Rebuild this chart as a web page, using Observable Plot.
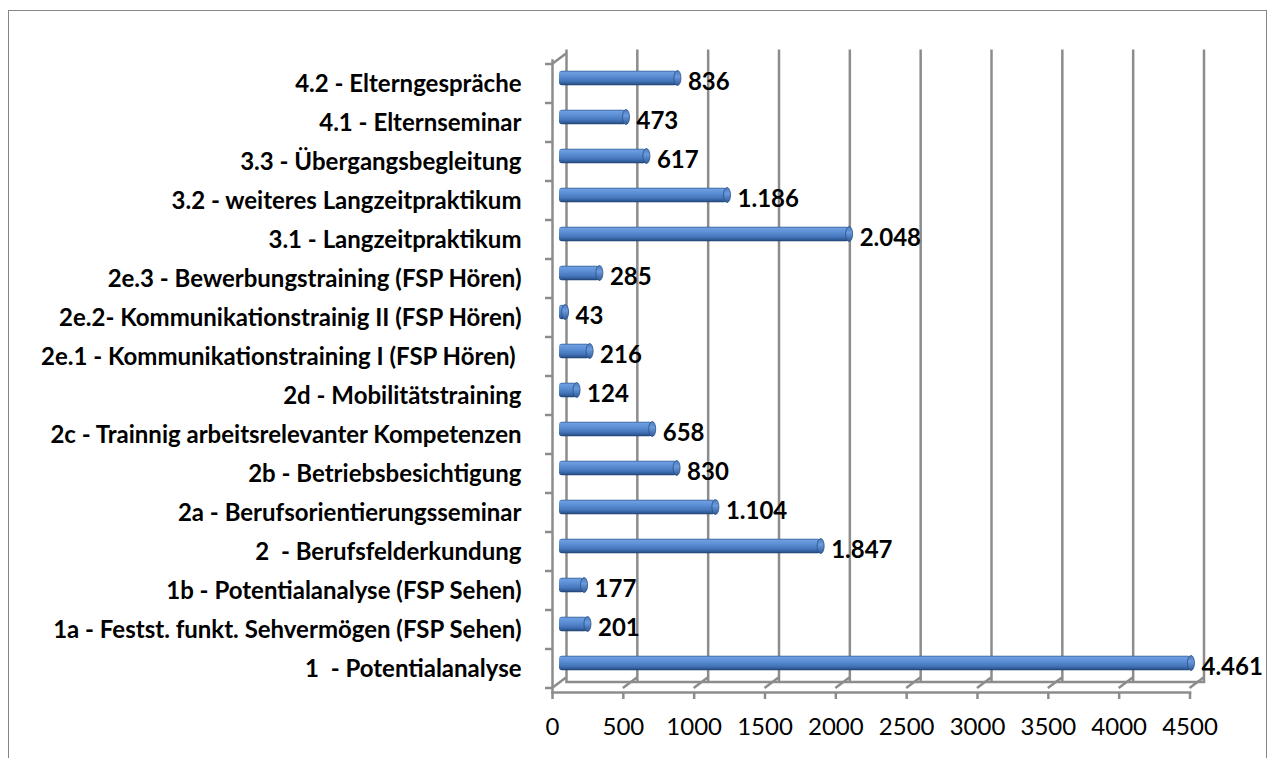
<!DOCTYPE html>
<html><head><meta charset="utf-8">
<script src="https://cdn.jsdelivr.net/npm/d3@7"></script>
<script src="https://cdn.jsdelivr.net/npm/@observablehq/plot@0.6"></script>
<style>
html,body{margin:0;padding:0;background:#fff;overflow:hidden}
#wrap{position:relative;width:1269px;height:758px}
#frame{position:absolute;left:8px;top:10px;width:1259px;height:800px;border:1.5px solid #868686;box-sizing:border-box;pointer-events:none}
svg text{white-space:pre}
</style></head><body><div id="wrap"><div id="chart"></div><div id="frame"></div></div>
<script>
const categories = [
  "4.2 - Elterngespräche",
  "4.1 - Elternseminar",
  "3.3 - Übergangsbegleitung",
  "3.2 - weiteres Langzeitpraktikum",
  "3.1 - Langzeitpraktikum",
  "2e.3 - Bewerbungstraining (FSP Hören)",
  "2e.2- Kommunikationstrainig II (FSP Hören)",
  "2e.1 - Kommunikationstraining I (FSP Hören) ",
  "2d - Mobilitätstraining",
  "2c - Trainnig arbeitsrelevanter Kompetenzen",
  "2b - Betriebsbesichtigung",
  "2a - Berufsorientierungsseminar",
  "2  - Berufsfelderkundung",
  "1b - Potentialanalyse (FSP Sehen)",
  "1a - Festst. funkt. Sehvermögen (FSP Sehen)",
  "1  - Potentialanalyse"
];
const values = [836, 473, 617, 1186, 2048, 285, 43, 216, 124, 658, 830, 1104, 1847, 177, 201, 4461];
const xTicks = [0, 500, 1000, 1500, 2000, 2500, 3000, 3500, 4000, 4500];

const data = categories.map((c, i) => ({cat: c, value: values[i]}));
const DX = 14, DY = -10.5;
const grid = "#8c8c8c";
const fmt = d3.formatLocale({decimal: ",", thousands: ".", grouping: [3], currency: ["", "€"]}).format(",d");

const chart = Plot.plot({
  width: 1269, height: 758,
  marginLeft: 552, marginRight: 79.5, marginTop: 60, marginBottom: 66,
  style: {fontFamily: "Lato, sans-serif", background: "transparent", overflow: "visible", color: "#000"},
  x: {domain: [0, 4500], label: null},
  y: {domain: categories, padding: 0, label: null},
  marks: [
    Plot.ruleX(xTicks, {x: d => d, dx: DX, dy: DY, stroke: grid, strokeWidth: 2.5}),
    Plot.frame({anchor: "bottom", dx: DX, dy: DY, stroke: grid, strokeWidth: 2.5}),
    Plot.frame({anchor: "bottom", stroke: grid, strokeWidth: 2.5}),
    Plot.frame({anchor: "left", stroke: grid, strokeWidth: 2.5}),
    Plot.axisX({ticks: xTicks, tickSize: 7, tickPadding: 18, fontSize: 24, stroke: grid, strokeWidth: 2.5, fill: "#000", tickFormat: d => String(d), label: null}),
    Plot.axisY({tickSize: 0, tickPadding: 31, fontSize: 24, fontWeight: "bold", fill: "#000", label: null}),
    Plot.barX(data, {x: "value", y: "cat", dx: 7, dy: -5.5, insetTop: 12.25, insetBottom: 12.25, fill: "url(#barGrad)", rx: 3}),
    Plot.text(data, {x: "value", y: "cat", text: d => fmt(d.value), textAnchor: "start", dx: 17, dy: -2, fontSize: 24, fontWeight: "bold", fill: "#000"})
  ]
});
document.getElementById("chart").appendChild(chart);

const sx = chart.scale("x"), sy = chart.scale("y");
const svg = d3.select(chart);
const defs = svg.insert("defs", ":first-child");
const g1 = defs.append("linearGradient").attr("id", "barGrad").attr("x1", 0).attr("y1", 0).attr("x2", 0).attr("y2", 1);
[[0, "#2f5d98"], [0.1, "#6f9ee0"], [0.35, "#5d90d6"], [0.7, "#4676bc"], [0.9, "#2e5994"], [1, "#1d3b66"]]
  .forEach(([o, c]) => g1.append("stop").attr("offset", o).attr("stop-color", c));
const g2 = defs.append("linearGradient").attr("id", "capGrad").attr("x1", 0).attr("y1", 0).attr("x2", 0).attr("y2", 1);
[[0, "#4a7cc0"], [0.4, "#6a9ade"], [1, "#2f5b96"]]
  .forEach(([o, c]) => g2.append("stop").attr("offset", o).attr("stop-color", c));

const bw = sy.bandwidth;
const yTop = sy.apply(categories[0]);
const yBottom = sy.apply(categories[categories.length - 1]) + bw;
const x0 = sx.apply(0);
const deco = svg.insert("g", "g[aria-label='bar']").attr("stroke", grid).attr("stroke-width", 2.5).attr("fill", "none");
xTicks.forEach(t => {
  const x = sx.apply(t);
  deco.append("line").attr("x1", x).attr("y1", yBottom).attr("x2", x + DX).attr("y2", yBottom + DY);
});
deco.append("line").attr("x1", x0).attr("y1", yTop).attr("x2", x0 + DX).attr("y2", yTop + DY);
categories.forEach(c => {
  const y = sy.apply(c);
  deco.append("line").attr("x1", x0 - 7).attr("y1", y).attr("x2", x0).attr("y2", y);
});
deco.append("line").attr("x1", x0 - 7).attr("y1", yBottom).attr("x2", x0).attr("y2", yBottom);

const caps = svg.insert("g", "g[aria-label='text']");
data.forEach(d => {
  caps.append("ellipse")
    .attr("cx", sx.apply(d.value) + 7).attr("cy", sy.apply(d.cat) + bw / 2 - 5.5)
    .attr("rx", 3.5).attr("ry", 7.5)
    .attr("fill", "url(#capGrad)").attr("stroke", "#2a4f85").attr("stroke-width", 0.8);
});
</script>
</body></html>
